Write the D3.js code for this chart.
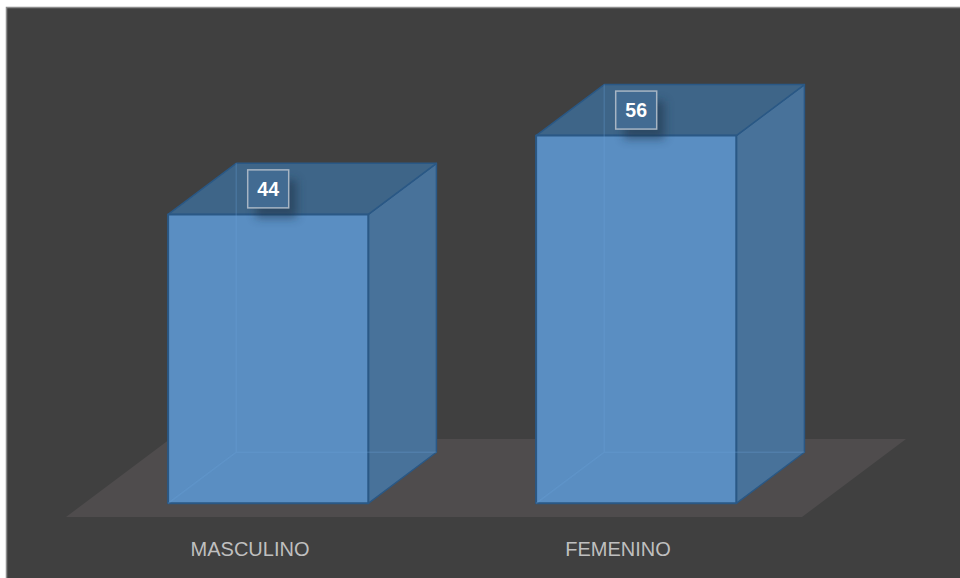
<!DOCTYPE html>
<html>
<head>
<meta charset="utf-8">
<script src="https://cdn.jsdelivr.net/npm/d3@7/dist/d3.min.js"></script>
<style>
  html, body { margin: 0; padding: 0; background: #ffffff; }
  svg { display: block; }
</style>
</head>
<body>
<svg id="chart" width="960" height="578"></svg>
<script>
// Chart data
const categories = ["MASCULINO", "FEMENINO"];
const values = [44, 56];
const valueDomain = [0, 60];

const svg = d3.select("#chart");
const W = 960, H = 578;

// Chart area frame
svg.append("rect")
  .attr("x", 6.5).attr("y", 7.5)
  .attr("width", W).attr("height", H)
  .attr("fill", "#404040")
  .attr("stroke", "#8c8c8c")
  .attr("stroke-width", 1.5);

// 3D floor layout: front edge and depth projection
const floorLeft = 66, floorRight = 802, floorFrontY = 517;
const DX = 104, DY = 78;          // screen offset for full depth
const zFront = 0.175, zBack = 0.83; // bar depth range

const x = d3.scaleBand()
  .domain(categories)
  .range([floorLeft, floorRight])
  .paddingInner(0.456)
  .paddingOuter(0.228);

const slot = d3.scaleBand()
  .domain(categories)
  .range([floorLeft, floorRight]);

const h = d3.scaleLinear().domain(valueDomain).range([0, 394]);

// project world (px, height, depth) onto the screen
const P = (px, hy, z) => [px + z * DX, floorFrontY - hy - z * DY];
const poly = pts => "M" + pts.map(p => p.join(",")).join("L") + "Z";

// Floor plane
svg.append("path")
  .attr("d", poly([P(floorLeft, 0, 0), P(floorRight, 0, 0), P(floorRight, 0, 1), P(floorLeft, 0, 1)]))
  .attr("fill", "#4f4c4d");

const defs = svg.append("defs");
const shadow = defs.append("filter").attr("id", "lblShadow")
  .attr("x", "-60%").attr("y", "-60%").attr("width", "220%").attr("height", "220%");
shadow.append("feGaussianBlur").attr("stdDeviation", 5);

const bars = svg.append("g").selectAll("g.bar")
  .data(categories.map((c, i) => ({ c, v: values[i] })))
  .join("g").attr("class", "bar");

const edge = "#2a5885";

bars.each(function(d) {
  const g = d3.select(this);
  const x0 = x(d.c), x1 = x0 + x.bandwidth();
  const top = h(d.v);
  const fbl = P(x0, 0, zFront), fbr = P(x1, 0, zFront);
  const ftl = P(x0, top, zFront), ftr = P(x1, top, zFront);
  const bbl = P(x0, 0, zBack), bbr = P(x1, 0, zBack);
  const btl = P(x0, top, zBack), btr = P(x1, top, zBack);

  // right side face
  g.append("path").attr("d", poly([fbr, bbr, btr, ftr]))
    .attr("fill", "#48729a").attr("stroke", edge).attr("stroke-width", 1.5)
    .attr("stroke-linejoin", "round");
  // top face
  g.append("path").attr("d", poly([ftl, ftr, btr, btl]))
    .attr("fill", "#3e6588").attr("stroke", edge).attr("stroke-width", 1.5)
    .attr("stroke-linejoin", "round");
  // front face
  g.append("path").attr("d", poly([fbl, fbr, ftr, ftl]))
    .attr("fill", "#5a8ec2").attr("stroke", edge).attr("stroke-width", 2)
    .attr("stroke-linejoin", "round");
  // hidden back edges seen through the translucent box
  g.append("path")
    .attr("d", `M${fbl.join(",")}L${bbl.join(",")}L${bbr.join(",")}M${bbl.join(",")}L${btl.join(",")}`)
    .attr("fill", "none").attr("stroke", "#6aa3da").attr("stroke-opacity", 0.25)
    .attr("stroke-width", 1.5);

  // value label on the top face
  const cx = (fbl[0] + fbr[0]) / 2;
  const cy = (ftl[1] + btl[1]) / 2;
  const bw = 41, bh = 38;
  g.append("rect")
    .attr("x", cx - bw / 2 + 8).attr("y", cy - bh / 2 + 10)
    .attr("width", bw).attr("height", bh)
    .attr("fill", "#1f3247").attr("opacity", 0.55)
    .attr("filter", "url(#lblShadow)");
  g.append("rect")
    .attr("x", cx - bw / 2).attr("y", cy - bh / 2)
    .attr("width", bw).attr("height", bh)
    .attr("fill", "#426b92")
    .attr("stroke", "#a7b5c4").attr("stroke-width", 1.5);
  g.append("text")
    .attr("x", cx).attr("y", cy + 7)
    .attr("text-anchor", "middle")
    .attr("font-family", "Liberation Sans, Arial, sans-serif")
    .attr("font-weight", "bold")
    .attr("font-size", 19.5)
    .attr("fill", "#ffffff")
    .text(d.v);
});

// Category labels along the floor's front edge
svg.append("g").selectAll("text")
  .data(categories)
  .join("text")
  .attr("x", c => slot(c) + slot.bandwidth() / 2)
  .attr("y", 555.5)
  .attr("text-anchor", "middle")
  .attr("font-family", "Liberation Sans, Arial, sans-serif")
  .attr("font-size", 20)
  .attr("fill", "#bfbfbf")
  .text(c => c);
</script>
</body>
</html>
